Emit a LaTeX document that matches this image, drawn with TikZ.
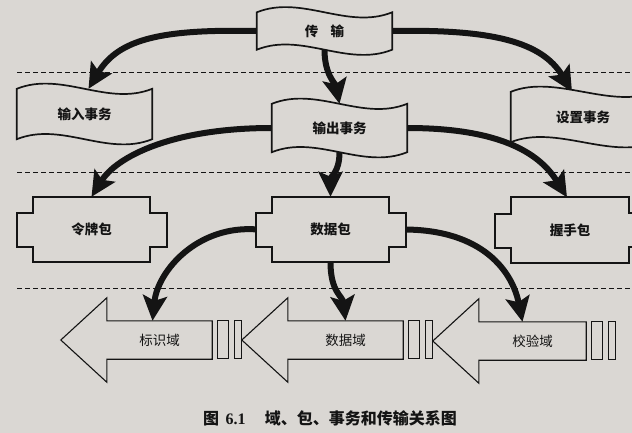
\documentclass[tikz,border=0pt]{standalone}
\usepackage{fontspec}
\setmainfont{Noto Sans CJK SC}
\newfontfamily\numfont{Liberation Serif}
\usepackage{tikz}
\pgfdeclarelayer{background}
\pgfdeclarelayer{wires}
\pgfdeclarelayer{shapes}
\pgfsetlayers{background,wires,shapes,main}
\usetikzlibrary{arrows.meta}
\definecolor{paper}{HTML}{DAD7D3}
\definecolor{ink}{HTML}{141414}

% outlines drawn round the named text nodes
\newcommand{\waveoutline}[1]{%
  \draw[outline] (#1.north west) .. controls +(45,-18) and +(-45,18) .. (#1.north east)
    -- (#1.south east) .. controls +(-45,18) and +(45,-18) .. (#1.south west) -- cycle;}
\newcommand{\pktoutline}[1]{%
  \draw[outline] (#1.north west) -- (#1.north east) -- ++(0,16) -- ++(17,0) -- ++(0,34)
    -- ++(-17,0) -- (#1.south east) -- (#1.south west) -- ++(0,-15) -- ++(-16,0)
    -- ++(0,-34) -- ++(16,0) -- cycle;}
\newcommand{\fieldoutline}[1]{%
  \draw[outline, line width=1.1pt] (#1.north east) -- (#1.north west) -- ++(0,-23)
    -- ([xshift=-46pt]#1.west) -- ([yshift=-23pt]#1.south west) -- (#1.south west)
    -- (#1.south east) -- cycle;
  \draw[outline, line width=1.1pt] ([xshift=5pt]#1.north east) rectangle ++(11,38);
  \draw[outline, line width=1.1pt] ([xshift=22pt]#1.north east) rectangle ++(7,38);}

\begin{document}
\begin{tikzpicture}[
    x=1pt, y=-1pt,
    every node/.style={font=\bfseries\fontsize{13.5}{15}\selectfont, text=ink},
    wave/.style={rectangle, minimum width=135, minimum height=48, inner sep=0pt},
    pkt/.style={rectangle, minimum width=117, minimum height=65, inner sep=0pt},
    fieldbody/.style={rectangle, minimum height=38, inner sep=0pt},
    outline/.style={draw=ink, line width=1.7pt, fill=paper, line join=miter},
    heavy/.style={draw=ink, line width=6pt, -{Stealth[length=25pt, width=24pt, inset=5pt]}},
    guide/.style={draw=ink, line width=0.9pt, dash pattern=on 5pt off 3pt},
    caption/.style={font=\bfseries\fontsize{16}{18}\selectfont},
]
\useasboundingbox (0,0) rectangle (632,433);
\begin{pgfonlayer}{background}
\fill[paper] (0,0) rectangle (632,433);
\foreach \y in {72,172,288} {
    \draw[guide] (17,\y) -- (632,\y);
}
\end{pgfonlayer}

% transfer and transactions
\node[wave, minimum height=37] (trans) at (324.5,31) {传\hspace{0.9em}输};
\node[wave, minimum height=50] (inp) at (84.5,114) {输入事务};
\node[wave] (outp) at (339.5,128) {输出事务};
\node[wave, minimum width=144, minimum height=50] (setp) at (583,117) {设置事务};
% packets
\node[pkt] (token) at (91.5,229.5) {令牌包};
\node[pkt] (data) at (330.5,229.5) {数据包};
\node[pkt] (shake) at (570,230) {握手包};
% fields
\node[fieldbody, minimum width=105] (ident) at (159.5,340) {\mdseries 标识域};
\node[fieldbody, minimum width=115] (dfield) at (345.5,340) {\mdseries 数据域};
\node[fieldbody, minimum width=107] (cfield) at (532.5,341) {\mdseries 校验域};

\node[caption] (cap) at (330,418) {图\hspace{0.4em}{\numfont 6.1}\hspace{1.2em}域、包、事务和传输关系图};

\begin{pgfonlayer}{shapes}
\foreach \n in {trans,inp,outp,setp} {\waveoutline{\n}}
\foreach \n in {token,data,shake} {\pktoutline{\n}}
\foreach \n in {ident,dfield,cfield} {\fieldoutline{\n}}
\end{pgfonlayer}

\begin{pgfonlayer}{wires}
\draw[heavy] (trans.west) .. controls +(-95,-2) and +(30,-50) .. ([xshift=4pt]inp.north);
\draw[heavy] (trans.east) .. controls +(100,-2) and +(-30,-50) .. ([xshift=-11pt]setp.north);
\draw[heavy] (trans.south) .. controls +(0,25) and +(-4,-20) .. (outp.north);
\draw[heavy] (outp.west) .. controls +(-100,0) and +(25,-40) .. (token.north);
\draw[heavy] (outp.south) .. controls +(0,20) and +(0,-20) .. (data.north);
\draw[heavy] (outp.east) .. controls +(100,0) and +(-25,-40) .. ([xshift=-3pt]shake.north);
\draw[heavy] ([xshift=-14pt]data.west) .. controls +(-60,-5) and +(5,-50) .. ([xshift=-7pt]ident.north);
\draw[heavy] (data.south) .. controls +(0,30) and +(-3,-25) .. (dfield.north);
\draw[heavy] ([xshift=14pt]data.east) .. controls +(80,0) and +(-10,-50) .. ([xshift=-10pt]cfield.north);
\end{pgfonlayer}
\end{tikzpicture}
\end{document}
